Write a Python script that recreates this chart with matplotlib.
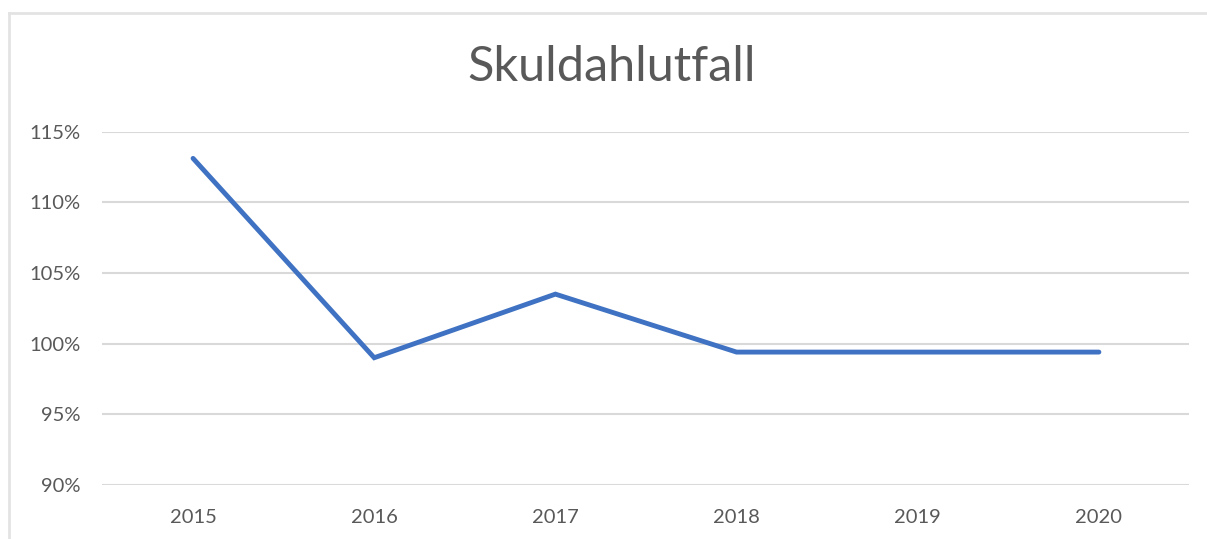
import matplotlib
matplotlib.use("Agg")
import matplotlib.pyplot as plt
from matplotlib.lines import Line2D
from matplotlib.ticker import FuncFormatter

# Data
years = ["2015", "2016", "2017", "2018", "2019", "2020"]
ratio = [113.1, 99.0, 103.5, 99.4, 99.4, 99.4]
yticks = [90, 95, 100, 105, 110, 115]

text_color = "#595959"
grid_color = "#D9D9D9"
line_color = "#3F72C2"

plt.rcParams["font.family"] = ["Lato", "DejaVu Sans"]

fig = plt.figure(figsize=(12.07, 5.39), dpi=100)
ax = fig.add_axes([0.0849, 0.1002, 0.9006, 0.6558])

# Light chart frame (only top and left edges are visible in the crop)
fx = 9 / 1207
fy = 1 - 13 / 539
fig.add_artist(Line2D([fx, 1.0], [fy, fy], transform=fig.transFigure,
                      color="#E3E3E3", linewidth=2))
fig.add_artist(Line2D([fx, fx], [0.0, fy], transform=fig.transFigure,
                      color="#E3E3E3", linewidth=2))

x = list(range(len(years)))
ax.plot(x, ratio, color=line_color, linewidth=3.5, solid_capstyle="round",
        solid_joinstyle="miter", zorder=3)

ax.set_xlim(-0.5, len(years) - 0.5)
ax.set_ylim(90, 115)
ax.set_xticks(x)
ax.set_xticklabels(years)
ax.set_yticks(yticks)
ax.yaxis.set_major_formatter(FuncFormatter(lambda v, p: f"{v:.0f}%"))

ax.grid(axis="y", color=grid_color, linewidth=1.5)
ax.set_axisbelow(True)
for s in ax.spines.values():
    s.set_visible(False)
ax.tick_params(axis="both", length=0, labelsize=14.5, colors=text_color)
ax.tick_params(axis="y", pad=16)
ax.tick_params(axis="x", pad=17)

fig.text(0.5066, 1 - 67 / 539, "Skuldahlutfall", ha="center", va="center",
         fontsize=35, color=text_color)

fig.savefig("out.png", dpi=100, facecolor="white")
